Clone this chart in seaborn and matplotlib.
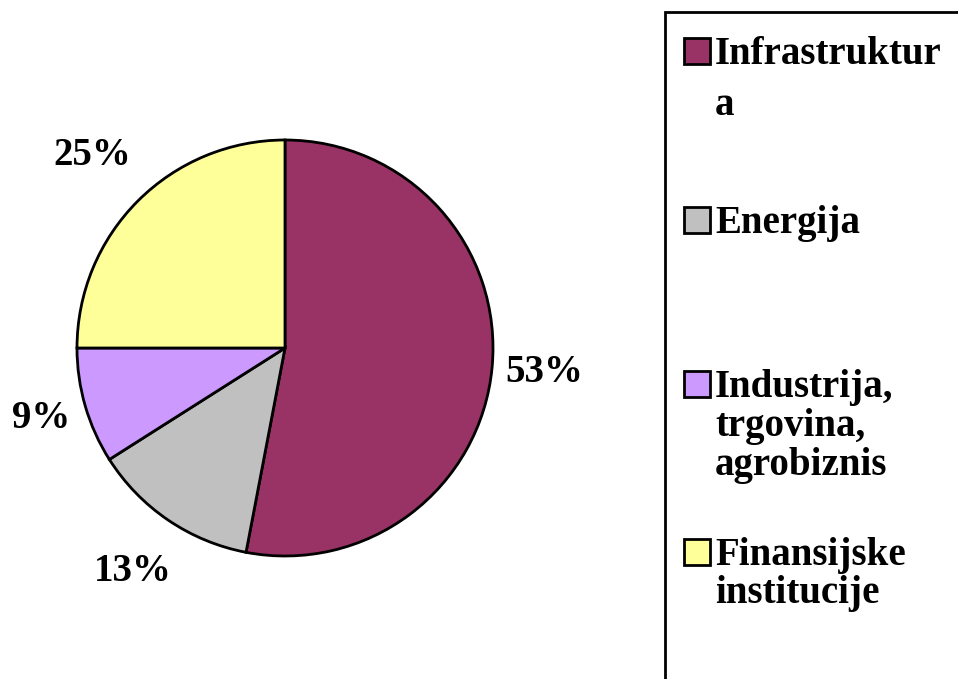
import numpy as np
import matplotlib
matplotlib.use("Agg")
import matplotlib.pyplot as plt
from matplotlib.patches import Rectangle
import seaborn as sns

# data
categories = ["Infrastruktura", "Energija", "Industrija, trgovina, agrobiznis", "Finansijske institucije"]
shares = [53, 13, 9, 25]
slice_colors = ["#993366", "#C0C0C0", "#CC99FF", "#FFFF99"]
legend_lines = [["Infrastruktur", "a"], ["Energija"], ["Industrija,", "trgovina,", "agrobiznis"],
                ["Finansijske", "institucije"]]

sns.set_theme(style="white")
plt.rcParams["font.family"] = ["Liberation Serif", "DejaVu Serif"]
plt.rcParams["font.weight"] = "bold"
plt.rcParams["text.color"] = "black"

W, H = 958, 679
fig = plt.figure(figsize=(W / 100, H / 100), dpi=100)
fig.patch.set_facecolor("white")

# pie centred at (285, 348) px, radius 208 px
cx, cy, r = 285, 348, 208
ax = fig.add_axes([(cx - r) / W, (H - cy - r) / H, 2 * r / W, 2 * r / H])
wedges, _, pct_texts = ax.pie(
    shares, colors=slice_colors, startangle=90, counterclock=False,
    wedgeprops=dict(edgecolor="black", linewidth=2),
    autopct="%1.0f%%", pctdistance=1.27,
    textprops=dict(fontsize=28, fontweight="bold", color="black"))
ax.set_xlim(-1, 1)
ax.set_ylim(-1, 1)
ax.set_aspect("equal")
ax.axis("off")

# nudge labels outward like the original
label_dist = [1.25, 1.30, 1.22, 1.31]
for w, t, d in zip(wedges, pct_texts, label_dist):
    a = np.deg2rad((w.theta1 + w.theta2) / 2)
    t.set_position((d * np.cos(a), d * np.sin(a)))

# legend box (runs off the right and bottom edges)
box_left, box_top = 665, 12
fig.patches.append(Rectangle((box_left / W, -0.05), 1.1 - box_left / W, 1.05 - box_top / H,
                             transform=fig.transFigure, fill=False, edgecolor="black",
                             linewidth=2, clip_on=False))

baselines = [[64, 115], [233], [397, 436, 475], [565, 603]]
sq = 26
for lines, base, col in zip(legend_lines, baselines, slice_colors):
    fig.patches.append(Rectangle((684 / W, (H - base[0]) / H), sq / W, sq / H,
                                 transform=fig.transFigure, facecolor=col,
                                 edgecolor="black", linewidth=2))
    for line, b in zip(lines, base):
        fig.text(715 / W, (H - b) / H, line, fontsize=28, fontweight="bold",
                 color="black", ha="left", va="baseline")

fig.savefig("out.png", dpi=100, facecolor="white")
